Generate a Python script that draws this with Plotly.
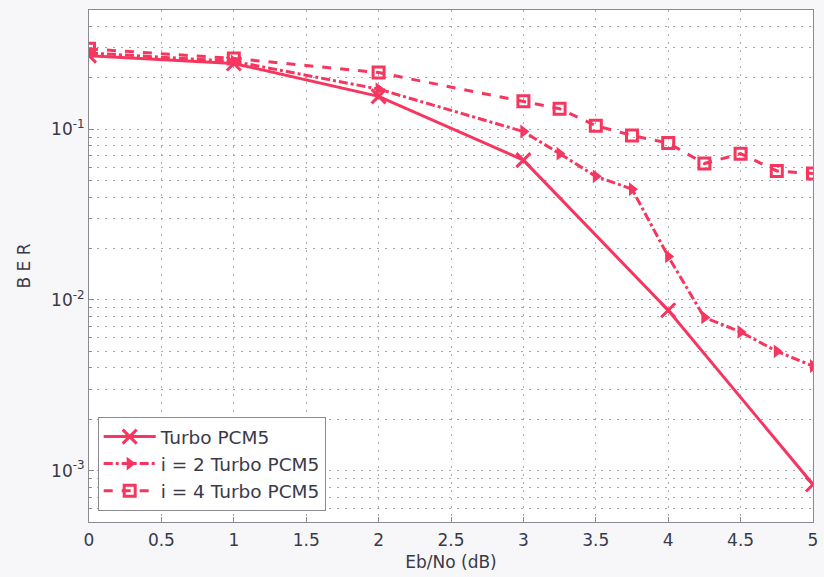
import plotly.graph_objects as go

x_turbo = [0, 1, 2, 3, 4, 5]
ber_turbo = [0.270, 0.243, 0.156, 0.066, 0.0087, 0.00083]

x_i = [0, 1, 2, 3, 3.25, 3.5, 3.75, 4, 4.25, 4.5, 4.75, 5]
ber_i2 = [0.280, 0.250, 0.172, 0.097, 0.072, 0.053, 0.0446, 0.018, 0.0079, 0.0065, 0.0050, 0.0041]
ber_i4 = [0.296, 0.260, 0.215, 0.146, 0.132, 0.105, 0.092, 0.083, 0.063, 0.072, 0.057, 0.055]

names = ["Turbo PCM5", "i = 2 Turbo PCM5", "i = 4 Turbo PCM5"]
x_ticks = [0, 0.5, 1, 1.5, 2, 2.5, 3, 3.5, 4, 4.5, 5]
y_major = [1e-3, 1e-2, 1e-1]
y_major_text = ["10<sup>-3</sup>", "10<sup>-2</sup>", "10<sup>-1</sup>"]

color = "#f5365e"
font_family = "DejaVu Sans, Liberation Sans, Arial"

fig = go.Figure()
fig.add_trace(go.Scatter(x=x_turbo, y=ber_turbo, name=names[0], mode="lines+markers",
                         line=dict(color=color, width=3, dash="solid"),
                         marker=dict(symbol="x-thin-open", size=14, line=dict(color=color, width=3))))
fig.add_trace(go.Scatter(x=x_i, y=ber_i2, name=names[1], mode="lines+markers",
                         line=dict(color=color, width=3, dash="dashdot"),
                         marker=dict(symbol="triangle-right", size=12, color=color)))
fig.add_trace(go.Scatter(x=x_i, y=ber_i4, name=names[2], mode="lines+markers",
                         line=dict(color=color, width=3, dash="dash"),
                         marker=dict(symbol="square-open", size=11, line=dict(color=color, width=3))))

# minor (unlabelled) grid positions on the log axis
y_minor = []
for d in [-4, -3, -2, -1]:
    for m in range(2, 10):
        v = m * 10 ** d
        if 5e-4 <= v <= 0.5:
            y_minor.append(v)

grid_col = "#a8a8b0"
grid_dash = "2px,6px"

fig.update_layout(
    width=824, height=577,
    margin=dict(l=89, r=6, t=10, b=55),
    paper_bgcolor="#f7f7f9", plot_bgcolor="white",
    font=dict(family=font_family, size=17, color="#3a3a48"),
    showlegend=True,
    legend=dict(x=0.012, y=0.205, xanchor="left", yanchor="top",
                bgcolor="white", bordercolor="#8a8a90", borderwidth=1,
                font=dict(size=18.5), tracegroupgap=0, itemwidth=52),
)
fig.update_xaxes(range=[0, 5], tickvals=x_ticks, ticktext=[f"{v:g}" for v in x_ticks],
                 tickfont=dict(size=17), ticklabelstandoff=3,
                 title=dict(text="Eb/No (dB)", standoff=6, font=dict(size=17)),
                 showline=True, linecolor="#8a8a90", mirror=True, linewidth=1,
                 ticks="inside", ticklen=5, tickcolor="#8a8a90", zeroline=False,
                 showgrid=True, gridcolor=grid_col, gridwidth=1, griddash=grid_dash)
fig.update_yaxes(type="log", range=[-3.301, -0.301], tickvals=y_major, ticktext=y_major_text,
                 tickfont=dict(size=17),
                 title=dict(text="B E R", standoff=16, font=dict(size=17)),
                 showline=True, linecolor="#8a8a90", mirror=True, linewidth=1,
                 ticks="inside", ticklen=5, tickcolor="#8a8a90", zeroline=False,
                 showgrid=True, gridcolor=grid_col, gridwidth=1, griddash=grid_dash,
                 minor=dict(tickvals=y_minor, showgrid=True, gridcolor=grid_col,
                            gridwidth=1, griddash=grid_dash, ticks="inside", ticklen=3,
                            tickcolor="#8a8a90"))

fig.write_html("out.html")
